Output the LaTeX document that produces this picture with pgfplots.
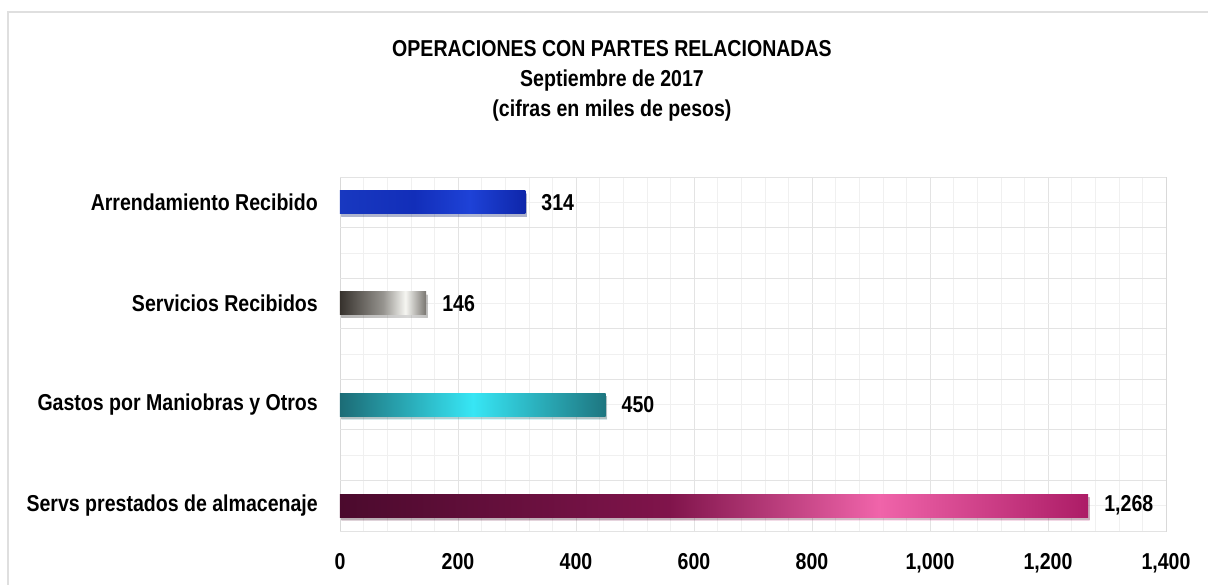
\documentclass[border=0pt]{standalone}
\usepackage{pgfplots}
\pgfplotsset{compat=1.18}
\usepackage{fontspec}
\setmainfont{Liberation Sans}[FakeStretch=0.85]
\definecolor{bA}{RGB}{24,56,192}
\definecolor{bB}{RGB}{18,46,185}
\definecolor{bC}{RGB}{30,66,215}
\definecolor{bD}{RGB}{14,38,170}
\definecolor{gA}{RGB}{55,50,45}
\definecolor{gB}{RGB}{150,148,143}
\definecolor{gC}{RGB}{246,246,242}
\definecolor{gD}{RGB}{120,117,112}
\definecolor{tA}{RGB}{28,108,118}
\definecolor{tB}{RGB}{55,230,245}
\definecolor{tC}{RGB}{30,118,128}
\definecolor{mA}{RGB}{75,10,45}
\definecolor{mB}{RGB}{128,20,75}
\definecolor{mC}{RGB}{240,100,170}
\definecolor{mD}{RGB}{172,28,102}
\pgfdeclarehorizontalshading{blueshade}{100bp}{color(0bp)=(bA); color(25bp)=(bA); color(45bp)=(bB); color(60bp)=(bC); color(75bp)=(bD); color(100bp)=(bD)}
\pgfdeclarehorizontalshading{grayshade}{100bp}{color(0bp)=(gA); color(25bp)=(gA); color(50bp)=(gB); color(63bp)=(gC); color(75bp)=(gD); color(100bp)=(gD)}
\pgfdeclarehorizontalshading{tealshade}{100bp}{color(0bp)=(tA); color(25bp)=(tA); color(50bp)=(tB); color(75bp)=(tC); color(100bp)=(tC)}
\pgfdeclarehorizontalshading{maroonshade}{100bp}{color(0bp)=(mA); color(25bp)=(mA); color(47bp)=(mB); color(61bp)=(mC); color(75bp)=(mD); color(100bp)=(mD)}
\begin{document}
\begin{tikzpicture}[x=1pt,y=1pt]
\useasboundingbox (0,0) rectangle (1208,584);
\draw[gray!25, line width=1.5pt] (8,572) rectangle (1240,-30);
\node[anchor=base, font=\bfseries\fontsize{23}{26}\selectfont] at (612,527.3) {OPERACIONES CON PARTES RELACIONADAS};
\node[anchor=base, font=\bfseries\fontsize{23}{26}\selectfont] at (612,497.3) {Septiembre de 2017};
\node[anchor=base, font=\bfseries\fontsize{23}{26}\selectfont] at (612,467.3) {(cifras en miles de pesos)};
\begin{axis}[
  at={(340pt,53pt)}, anchor=south west,
  width=826pt, height=354pt, scale only axis,
  xbar,
  xmin=0, xmax=1400, ymin=-0.25, ymax=3.25,
  xtick={0,200,...,1400},
  minor x tick num=4,
  ytick={0,1,2,3},
  yticklabels={Servs prestados de almacenaje, Gastos por Maniobras y Otros, Servicios Recibidos, Arrendamiento Recibido},
  minor ytick={0,0.5,...,3},
  extra y ticks={-0.25,0.25,0.75,1.25,1.75,2.25,2.75,3.25},
  extra y tick labels={},
  extra y tick style={grid=major, major tick length=0pt},
  xmajorgrids, xminorgrids, yminorgrids,
  major grid style={gray!22, line width=0.8pt},
  minor grid style={gray!12, line width=0.6pt},
  major tick length=0pt, minor tick length=0pt,
  axis line style={gray!30, line width=0.8pt},
  tick label style={font=\bfseries\fontsize{23}{26}\selectfont},
  /pgf/number format/assume math mode=true,
  /pgf/number format/1000 sep={,},
  xticklabel style={anchor=base, inner sep=0pt, yshift=-38pt},
  yticklabel style={anchor=east, inner sep=0pt, xshift=-22pt},
  nodes near coords,
  every node near coord/.append style={anchor=west, inner sep=0pt, xshift=16pt, font=\bfseries\fontsize{23}{26}\selectfont, text=black},
  every axis plot/.append style={preaction={fill=black, opacity=0.18, transform canvas={shift={(1.5pt,-3pt)}}}},
]
\addplot[xbar, bar width=23pt, bar shift=0pt, draw=none, shade, shading=maroonshade] coordinates {(1268,0)};
\addplot[xbar, bar width=23pt, bar shift=0pt, draw=none, shade, shading=tealshade] coordinates {(450,1)};
\addplot[xbar, bar width=23pt, bar shift=0pt, draw=none, shade, shading=grayshade] coordinates {(146,2)};
\addplot[xbar, bar width=23pt, bar shift=0pt, draw=none, shade, shading=blueshade] coordinates {(314,3)};
\end{axis}
\end{tikzpicture}
\end{document}
